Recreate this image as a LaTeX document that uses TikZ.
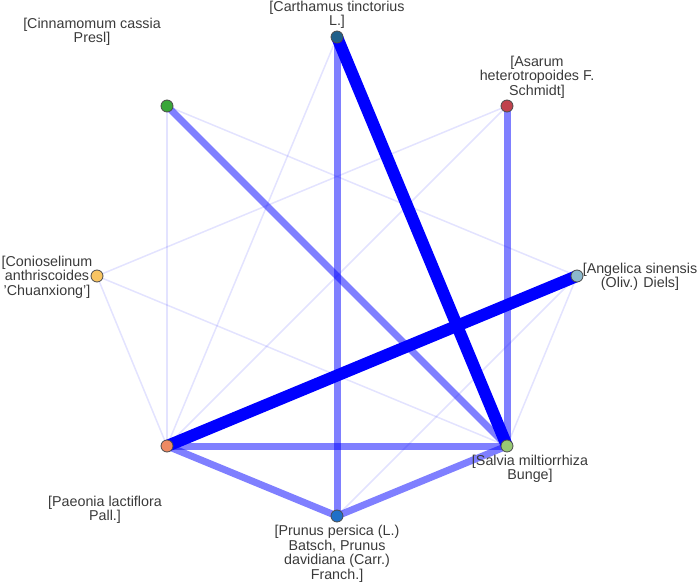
\documentclass[tikz,border=0pt]{standalone}
\usepackage{fontspec}
\setmainfont{Liberation Sans}
\usepackage{tikz}
\usetikzlibrary{backgrounds}
\definecolor{carcol}{HTML}{1F5F8A}
\definecolor{asacol}{HTML}{C0434D}
\definecolor{angcol}{HTML}{8CB8CC}
\definecolor{salcol}{HTML}{98C874}
\definecolor{prucol}{HTML}{1F70C8}
\definecolor{paecol}{HTML}{EE8A62}
\definecolor{concol}{HTML}{F8C462}
\definecolor{cincol}{HTML}{3AA63A}
\definecolor{labcol}{HTML}{3A3A3A}

\begin{document}
\begin{tikzpicture}[x=1pt, y=-1pt]
	\tikzstyle{herb} = [circle, draw=black!70, line width=0.8pt, minimum size=12pt, inner sep=0pt]
	\tikzstyle{lab} = [align=center, text=labcol, inner sep=0pt, font=\fontsize{14.3}{14.6}\selectfont]
	\tikzstyle{strongedge} = [line width=12pt, blue]
	\tikzstyle{midedge} = [line width=7pt, blue, opacity=0.5]
	\tikzstyle{faintedge} = [line width=1.5pt, blue, opacity=0.11]
	\useasboundingbox (0,0) rectangle (699,585);
	\node[herb, fill=carcol] (car) at (337,37) {};
	\node[herb, fill=asacol] (asa) at (507,106) {};
	\node[herb, fill=angcol] (ang) at (577,276) {};
	\node[herb, fill=salcol] (sal) at (507,446) {};
	\node[herb, fill=prucol] (pru) at (337,516) {};
	\node[herb, fill=paecol] (pae) at (167,446) {};
	\node[herb, fill=concol] (con) at (97,276) {};
	\node[herb, fill=cincol] (cin) at (167,106) {};
	\node[lab] (carlab) at (337,15) {[Carthamus tinctorius\\L.]};
	\node[lab] (asalab) at (537,77) {[Asarum\\heterotropoides F.\\Schmidt]};
	\node[lab] (anglab) at (640,277) {[Angelica sinensis\\(Oliv.) Diels]};
	\node[lab] (sallab) at (530,469) {[Salvia miltiorrhiza\\Bunge]};
	\node[lab] (prulab) at (337,554) {[Prunus persica (L.)\\Batsch, Prunus\\davidiana (Carr.)\\Franch.]};
	\node[lab] (paelab) at (105,510) {[Paeonia lactiflora\\Pall.]};
	\node[lab] (conlab) at (47,277) {[Conioselinum\\anthriscoides\\'Chuanxiong']};
	\node[lab] (cinlab) at (92,32) {[Cinnamomum cassia\\Presl]};
	\begin{scope}[on background layer]
	\draw [faintedge] (cin.center)--(pae.center);
	\draw [faintedge] (cin.center)--(ang.center);
	\draw [faintedge] (con.center)--(asa.center);
	\draw [faintedge] (con.center)--(sal.center);
	\draw [faintedge] (con.center)--(pae.center);
	\draw [faintedge] (car.center)--(pae.center);
	\draw [faintedge] (asa.center)--(pae.center);
	\draw [faintedge] (ang.center)--(sal.center);
	\draw [faintedge] (ang.center)--(pru.center);
	\draw [midedge] (car.center)--(pru.center);
	\draw [midedge] (asa.center)--(sal.center);
	\draw [midedge] (cin.center)--(sal.center);
	\draw [midedge] (pae.center)--(sal.center);
	\draw [midedge] (pae.center)--(pru.center);
	\draw [midedge] (pru.center)--(sal.center);
	\draw [strongedge] (car.center)--(sal.center);
	\draw [strongedge] (ang.center)--(pae.center);
	\end{scope}
\end{tikzpicture}
\end{document}
